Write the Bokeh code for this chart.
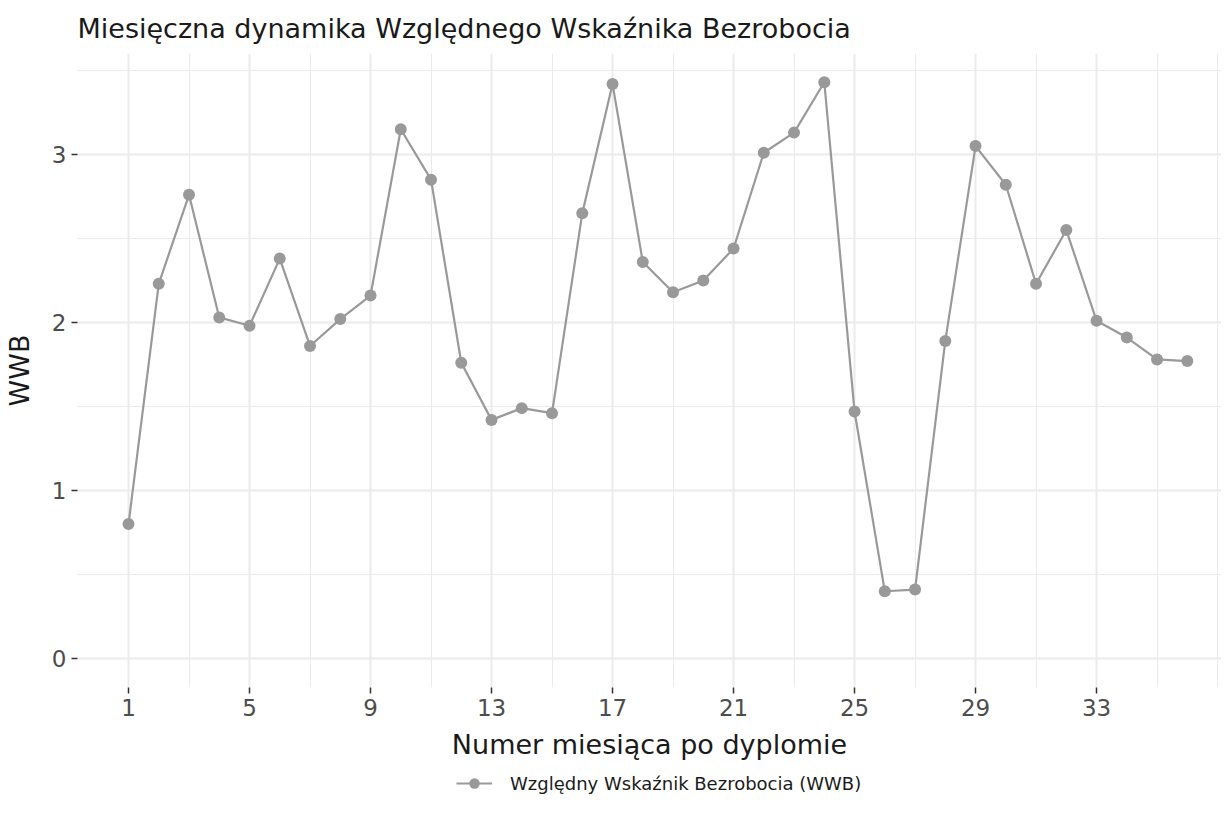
from bokeh.plotting import figure
from bokeh.layouts import column
from bokeh.models import FixedTicker, Legend, LegendItem, Range1d
from bokeh.embed import file_html
from bokeh.resources import INLINE

FONT = "DejaVu Sans"

months = list(range(1, 37))
wwb = [0.80, 2.23, 2.76, 2.03, 1.98, 2.38, 1.86, 2.02, 2.16, 3.15,
       2.85, 1.76, 1.42, 1.49, 1.46, 2.65, 3.42, 2.36, 2.18, 2.25,
       2.44, 3.01, 3.13, 3.43, 1.47, 0.40, 0.41, 1.89, 3.05, 2.82,
       2.23, 2.55, 2.01, 1.91, 1.78, 1.77]
x_ticks = [1, 5, 9, 13, 17, 21, 25, 29, 33]
x_minor = [3, 7, 11, 15, 19, 23, 27, 31, 35, 37]
y_ticks = [0, 1, 2, 3]
y_minor = [0.5, 1.5, 2.5, 3.5]

title = "Miesięczna dynamika Względnego Wskaźnika Bezrobocia"
x_label = "Numer miesiąca po dyplomie"
y_label = "WWB"
series_label = "Względny Wskaźnik Bezrobocia (WWB)"

LINE_COLOR = "#999999"

p = figure(frame_width=1144, frame_height=634, output_backend="svg",
           toolbar_location=None,
           x_range=Range1d(-0.686, 37.13), y_range=Range1d(-0.173, 3.601),
           min_border_left=0, min_border_right=0, min_border_top=0,
           min_border_bottom=0)
p.outline_line_color = None
p.background_fill_color = "white"
p.border_fill_color = "white"

p.title.text = title
p.title.text_font = FONT
p.title.text_font_size = "27px"
p.title.text_font_style = "normal"
p.title.text_color = "#1a1a1a"
p.title.align = "left"
p.title.standoff = 20

for ax, tk, mn, lab in ((p.xaxis[0], x_ticks, x_minor, x_label),
                        (p.yaxis[0], y_ticks, y_minor, y_label)):
    ax.ticker = FixedTicker(ticks=tk, minor_ticks=mn)
    ax.axis_line_color = None
    ax.major_tick_line_color = "#333333"
    ax.major_tick_line_width = 1.5
    ax.major_tick_out = 6
    ax.major_tick_in = 0
    ax.minor_tick_line_color = None
    ax.major_label_text_font = FONT
    ax.major_label_text_font_size = "23px"
    ax.major_label_text_color = "#4d4d4d"
    ax.major_label_standoff = 5
    ax.axis_label = lab
    ax.axis_label_text_font = FONT
    ax.axis_label_text_font_size = "27px"
    ax.axis_label_text_font_style = "normal"
    ax.axis_label_text_color = "#1a1a1a"
p.xaxis[0].axis_label_standoff = 10
p.yaxis[0].axis_label_standoff = 14

for g in (p.xgrid[0], p.ygrid[0]):
    g.grid_line_color = "#ebebeb"
    g.grid_line_width = 2
    g.minor_grid_line_color = "#ebebeb"
    g.minor_grid_line_width = 1

p.line(months, wwb, line_color=LINE_COLOR, line_width=2.2)
p.scatter(months, wwb, size=12, fill_color=LINE_COLOR, line_color=None)

# legend strip below the chart (its own copies of the series lie outside its view)
p2 = figure(width=1212, height=54, output_backend="svg", toolbar_location=None,
            x_range=Range1d(-100, -99), y_range=Range1d(-100, -99),
            x_axis_location=None, y_axis_location=None,
            min_border_left=0, min_border_right=0, min_border_top=0,
            min_border_bottom=0)
p2.outline_line_color = None
p2.grid.visible = False
p2.border_fill_color = "white"
p2.background_fill_color = "white"
lr = p2.line(months, wwb, line_color=LINE_COLOR, line_width=2.2)
ls = p2.scatter(months, wwb, size=12, fill_color=LINE_COLOR, line_color=None)
legend = Legend(items=[LegendItem(label=series_label, renderers=[lr, ls])],
                orientation="horizontal", location=(379, 20),
                border_line_color=None, background_fill_alpha=0,
                label_text_font=FONT, label_text_font_size="18px",
                label_text_color="#1a1a1a", label_height=20, glyph_height=26,
                glyph_width=36, label_standoff=18, margin=0, padding=5)
p2.add_layout(legend)

open("out.html", "w").write(file_html(column(p, p2), INLINE))
